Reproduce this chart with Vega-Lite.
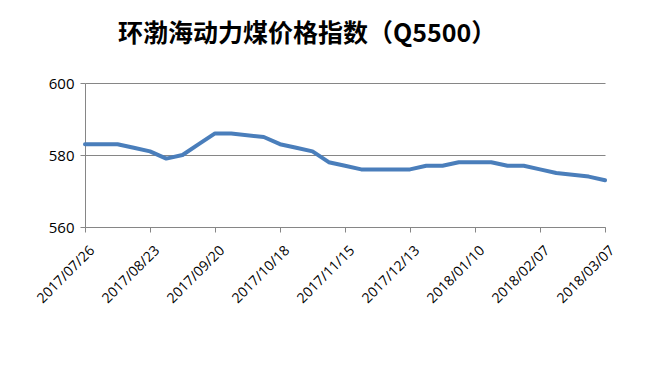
{
  "$schema": "https://vega.github.io/schema/vega-lite/v6.json",
  "width": 520,
  "height": 144,
  "autosize": {"type": "none"},
  "padding": {"left": 85, "top": 83, "right": 43, "bottom": 144},
  "background": "white",
  "title": {
    "text": "环渤海动力煤价格指数（Q5500）",
    "font": "Noto Sans CJK SC",
    "fontSize": 25,
    "fontWeight": "bold",
    "color": "#000000",
    "anchor": "start",
    "frame": "group",
    "dx": 33,
    "offset": 29
  },
  "data": {
    "values": [
      {"date": "2017-07-26", "value": 583},
      {"date": "2017-08-02", "value": 583},
      {"date": "2017-08-09", "value": 583},
      {"date": "2017-08-16", "value": 582},
      {"date": "2017-08-23", "value": 581},
      {"date": "2017-08-30", "value": 579},
      {"date": "2017-09-06", "value": 580},
      {"date": "2017-09-13", "value": 583},
      {"date": "2017-09-20", "value": 586},
      {"date": "2017-09-27", "value": 586},
      {"date": "2017-10-11", "value": 585},
      {"date": "2017-10-18", "value": 583},
      {"date": "2017-10-25", "value": 582},
      {"date": "2017-11-01", "value": 581},
      {"date": "2017-11-08", "value": 578},
      {"date": "2017-11-15", "value": 577},
      {"date": "2017-11-22", "value": 576},
      {"date": "2017-11-29", "value": 576},
      {"date": "2017-12-06", "value": 576},
      {"date": "2017-12-13", "value": 576},
      {"date": "2017-12-20", "value": 577},
      {"date": "2017-12-27", "value": 577},
      {"date": "2018-01-03", "value": 578},
      {"date": "2018-01-10", "value": 578},
      {"date": "2018-01-17", "value": 578},
      {"date": "2018-01-24", "value": 577},
      {"date": "2018-01-31", "value": 577},
      {"date": "2018-02-07", "value": 576},
      {"date": "2018-02-14", "value": 575},
      {"date": "2018-02-28", "value": 574},
      {"date": "2018-03-07", "value": 573}
    ]
  },
  "mark": {"type": "line", "color": "#4A7EBB", "strokeWidth": 4, "strokeJoin": "round", "strokeCap": "round"},
  "encoding": {
    "x": {
      "field": "date",
      "type": "temporal",
      "scale": {
        "type": "utc",
        "nice": false,
        "domain": [
          {"year": 2017, "month": 7, "date": 26, "utc": true},
          {"year": 2018, "month": 3, "date": 7, "utc": true}
        ]
      },
      "axis": {
        "title": null,
        "grid": false,
        "values": [
          {"year": 2017, "month": 7, "date": 26, "utc": true},
          {"year": 2017, "month": 8, "date": 23, "utc": true},
          {"year": 2017, "month": 9, "date": 20, "utc": true},
          {"year": 2017, "month": 10, "date": 18, "utc": true},
          {"year": 2017, "month": 11, "date": 15, "utc": true},
          {"year": 2017, "month": 12, "date": 13, "utc": true},
          {"year": 2018, "month": 1, "date": 10, "utc": true},
          {"year": 2018, "month": 2, "date": 7, "utc": true},
          {"year": 2018, "month": 3, "date": 7, "utc": true}
        ],
        "labelExpr": "utcFormat(datum.value, '%Y/%m/%d')",
        "labelAngle": -45,
        "labelAlign": "right",
        "labelBaseline": "middle",
        "labelFont": "Open Sans",
        "labelFontSize": 14,
        "labelColor": "#000000",
        "labelPadding": 16,
        "labelOffset": 7,
        "labelOverlap": false,
        "labelFlush": false,
        "tickSize": 5,
        "tickColor": "#868686",
        "domainColor": "#868686",
        "domainWidth": 1
      }
    },
    "y": {
      "field": "value",
      "type": "quantitative",
      "scale": {"domain": [560, 600], "nice": false, "zero": false},
      "axis": {
        "title": null,
        "values": [560, 580, 600],
        "grid": true,
        "gridColor": "#868686",
        "gridWidth": 1,
        "labelFont": "Open Sans",
        "labelFontSize": 15,
        "labelColor": "#000000",
        "labelPadding": 6,
        "tickSize": 5,
        "tickColor": "#868686",
        "domainColor": "#868686",
        "labelFlush": false
      }
    }
  },
  "config": {
    "view": {"stroke": null}
  }
}
